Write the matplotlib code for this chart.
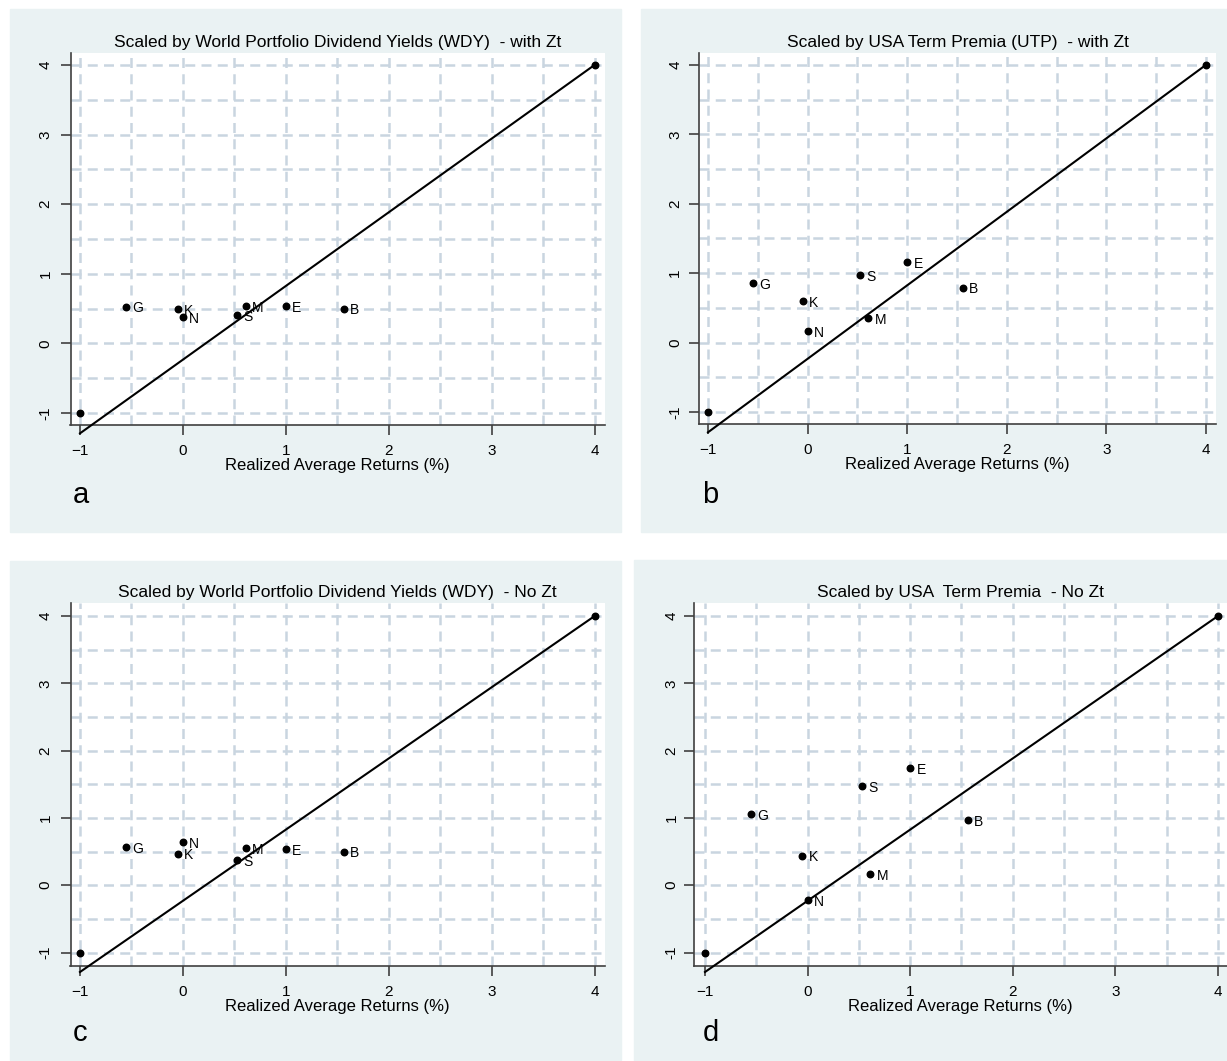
import matplotlib.pyplot as plt
from matplotlib.patches import Rectangle

plt.rcParams['font.family'] = ['Liberation Sans', 'DejaVu Sans']

# data
labels = ['G', 'K', 'N', 'S', 'M', 'E', 'B']
x_ret = [-0.55, -0.05, 0.0, 0.53, 0.61, 1.0, 1.56]
y_wdy_zt = [0.53, 0.49, 0.38, 0.41, 0.54, 0.54, 0.50]
y_utp_zt = [0.86, 0.60, 0.17, 0.97, 0.35, 1.16, 0.79]
y_wdy_nozt = [0.57, 0.47, 0.64, 0.37, 0.55, 0.54, 0.50]
y_utp_nozt = [1.06, 0.44, -0.22, 1.47, 0.16, 1.74, 0.97]
end_x = [-1, 4]
end_y = [-1, 4]
line_x = [-1, 4]
line_y = [-1.29, 4]

titles = ['Scaled by World Portfolio Dividend Yields (WDY)  - with Zt',
          'Scaled by USA Term Premia (UTP)  - with Zt',
          'Scaled by World Portfolio Dividend Yields (WDY)  - No Zt',
          'Scaled by USA  Term Premia  - No Zt']
letters = ['a', 'b', 'c', 'd']
ys = [y_wdy_zt, y_utp_zt, y_wdy_nozt, y_utp_nozt]

W, H = 1227, 1061
fig = plt.figure(figsize=(W / 100, H / 100), dpi=100)

def px_rect(l, t, r, b):
    return [l / W, 1 - b / H, (r - l) / W, (b - t) / H]

bg_col = '#eaf2f3'
grid_col = '#c9d5e0'
# panel backgrounds (pixels: left, top, right, bottom)
panels = [(10, 9, 621, 532), (641, 9, 1227, 532),
          (10, 561, 621, 1060), (634, 560, 1227, 1061)]
for l, t, r, b in panels:
    fig.patches.append(Rectangle((l / W, 1 - b / H), (r - l) / W, (b - t) / H,
                                 transform=fig.transFigure, color=bg_col, zorder=-10))

axes_px = [(70.5, 53, 605, 425), (699, 53, 1216, 424),
           (70.5, 603, 605, 965.5), (694, 603, 1227, 965.5)]
xlims = [(-1.092, 4.1), (-1.09, 4.10), (-1.092, 4.1), (-1.107, 4.088)]
ylims = [(-1.17, 4.17), (-1.17, 4.17), (-1.193, 4.193), (-1.193, 4.193)]
letter_pos = [(73, 495), (702, 495), (73, 1033), (703, 1033)]
ypads = [6, 5, 6, 4]

for i in range(4):
    ax = fig.add_axes(px_rect(*axes_px[i]))
    ax.set_facecolor('white')
    ax.set_xlim(xlims[i])
    ax.set_ylim(ylims[i])
    for g in [k * 0.5 for k in range(-2, 9)]:
        ax.axvline(g, color=grid_col, lw=1.8, ls=(0, (4, 2.5)), zorder=1)
        ax.axhline(g, color=grid_col, lw=1.8, ls=(0, (4, 2.5)), zorder=1)
    ax.plot(line_x, line_y, color='black', lw=1.5, zorder=3, clip_on=False)
    ax.scatter(end_x, end_y, s=22, color='black', zorder=4, clip_on=False)
    ax.scatter(x_ret, ys[i], s=22, color='black', zorder=4)
    for lab, xv, yv in zip(labels, x_ret, ys[i]):
        ax.annotate(lab, (xv, yv), xytext=(4.5, -1.2), textcoords='offset points',
                    va='center', ha='left', fontsize=10, zorder=5)
    ax.set_xticks([-1, 0, 1, 2, 3, 4])
    ax.set_yticks([-1, 0, 1, 2, 3, 4])
    ax.set_yticklabels(['-1', '0', '1', '2', '3', '4'], rotation=90, va='center')
    ax.tick_params(axis='x', length=7, width=1.2, color='#404040', labelsize=11, pad=7)
    ax.tick_params(axis='y', length=7, width=1.2, color='#404040', labelsize=11, pad=ypads[i])
    for s in ['top', 'right']:
        ax.spines[s].set_visible(False)
    for s in ['left', 'bottom']:
        ax.spines[s].set_color('#404040')
        ax.spines[s].set_linewidth(1.2)
    ax.set_xlabel('Realized Average Returns (%)', fontsize=12, labelpad=0)
    ax.set_title(titles[i], fontsize=12.5, pad=4)
    lx, ly = letter_pos[i]
    fig.text(lx / W, 1 - ly / H, letters[i], fontsize=21, ha='left', va='center')

fig.savefig('out.png', dpi=100, facecolor='white')
